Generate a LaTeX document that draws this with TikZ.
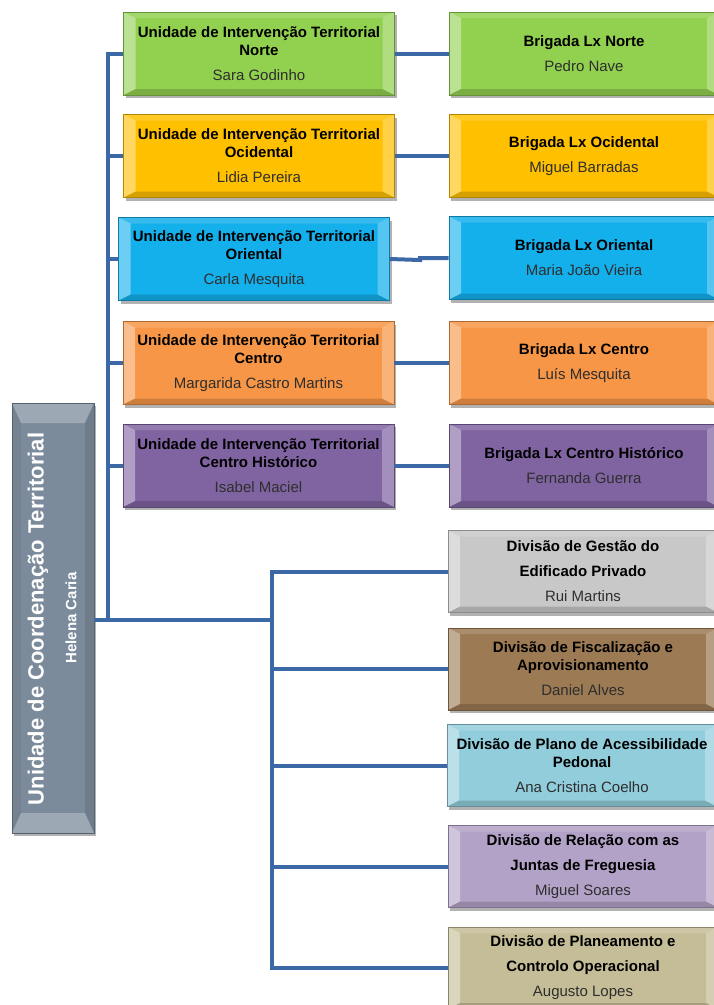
\documentclass[tikz,border=0pt]{standalone}
\usepackage{fontspec}
\setmainfont{Liberation Sans}
\usetikzlibrary{calc,shadows}

\definecolor{cline}{RGB}{60,104,166}
\definecolor{cNorte}{RGB}{146,208,80}
\definecolor{cOcid}{RGB}{255,192,0}
\definecolor{cOrie}{RGB}{20,176,236}
\definecolor{cCentro}{RGB}{247,150,70}
\definecolor{cHist}{RGB}{128,100,162}
\definecolor{cGest}{RGB}{200,200,200}
\definecolor{cFisc}{RGB}{156,122,84}
\definecolor{cPlano}{RGB}{146,205,220}
\definecolor{cRel}{RGB}{179,162,199}
\definecolor{cPlan}{RGB}{196,189,151}
\definecolor{cLeft}{RGB}{124,139,155}

\newcommand{\bevelpic}[6]{%
  \coordinate (pNW) at (path picture bounding box.north west);
  \coordinate (pNE) at (path picture bounding box.north east);
  \coordinate (pSW) at (path picture bounding box.south west);
  \coordinate (pSE) at (path picture bounding box.south east);
  \coordinate (iNW) at ($(pNW)+(#1,-#2)$);
  \coordinate (iNE) at ($(pNE)+(-#1,-#2)$);
  \coordinate (iSW) at ($(pSW)+(#1,#2)$);
  \coordinate (iSE) at ($(pSE)+(-#1,#2)$);
  \fill[#3] (pNW) -- (pSW) -- (iSW) -- (iNW) -- cycle;
  \fill[#4] (pNE) -- (pSE) -- (iSE) -- (iNE) -- cycle;
  \fill[#5] (pNW) -- (pNE) -- (iNE) -- (iNW) -- cycle;
  \fill[#6] (pSW) -- (pSE) -- (iSE) -- (iSW) -- cycle;
}

\tikzset{
  box/.style={draw=#1!70!black, line width=0.6pt, fill=#1, inner sep=0pt,
    align=center, text=black, font=\fontsize{15}{18}\selectfont,
    drop shadow={shadow xshift=2pt, shadow yshift=-3pt, opacity=.3, fill=black},
    path picture={\bevelpic{12pt}{6pt}{white,opacity=.38}{white,opacity=.28}{white,opacity=.15}{black,opacity=.16}}},
  uitbox/.style={box=#1, minimum width=271pt, minimum height=83pt},
  brgbox/.style={box=#1, minimum width=270pt, minimum height=83pt},
  divbox/.style={box=#1, minimum width=270pt, minimum height=82pt},
  leftbox/.style={draw=cLeft!70!black, line width=0.6pt, fill=cLeft, inner sep=0pt,
    minimum width=82pt, minimum height=430pt,
    drop shadow={shadow xshift=2pt, shadow yshift=-3pt, opacity=.3, fill=black},
    path picture={\bevelpic{9pt}{20pt}{black,opacity=.06}{black,opacity=.1}{white,opacity=.25}{white,opacity=.25}}},
  conn/.style={draw=cline, line width=4pt, line join=miter},
}

\begin{document}
\begin{tikzpicture}[x=1pt,y=-1pt]
\useasboundingbox (0,0) rectangle (714,1005);
\clip (0,0) rectangle (714,1005);

% left box
\node[leftbox] (lb) at (53,618) {};
\node[rotate=90, text=white, font=\bfseries\fontsize{22}{26}\selectfont] (lbt) at (38,619) {Unidade de Coordenação Territorial};
\node[rotate=90, text=white, font=\bfseries\fontsize{15}{18}\selectfont] (lbn) at (71,618) {Helena Caria};

% UIT boxes
\node[uitbox=cNorte] (u1) at (259,53.5) {\textbf{Unidade de Intervenção Territorial}\\\textbf{Norte}\\[7pt]\textcolor{black!82}{Sara Godinho}};
\node[uitbox=cOcid] (u2) at (259,156) {\textbf{Unidade de Intervenção Territorial}\\\textbf{Ocidental}\\[7pt]\textcolor{black!82}{Lidia Pereira}};
\node[uitbox=cOrie] (u3) at (254,259) {\textbf{Unidade de Intervenção Territorial}\\\textbf{Oriental}\\[7pt]\textcolor{black!82}{Carla Mesquita}};
\node[uitbox=cCentro] (u4) at (258.5,363) {\textbf{Unidade de Intervenção Territorial}\\\textbf{Centro}\\[7pt]\textcolor{black!82}{Margarida Castro Martins}};
\node[uitbox=cHist] (u5) at (258.5,465.5) {\textbf{Unidade de Intervenção Territorial}\\\textbf{Centro Histórico}\\[7pt]\textcolor{black!82}{Isabel Maciel}};

% Brigada boxes
\node[brgbox=cNorte] (b1) at (584,53.5) {\textbf{Brigada Lx Norte}\\[7pt]\textcolor{black!82}{Pedro Nave}};
\node[brgbox=cOcid] (b2) at (584,156) {\textbf{Brigada Lx Ocidental}\\[7pt]\textcolor{black!82}{Miguel Barradas}};
\node[brgbox=cOrie] (b3) at (584,258) {\textbf{Brigada Lx Oriental}\\[7pt]\textcolor{black!82}{Maria João Vieira}};
\node[brgbox=cCentro] (b4) at (584,363) {\textbf{Brigada Lx Centro}\\[7pt]\textcolor{black!82}{Luís Mesquita}};
\node[brgbox=cHist] (b5) at (584,465.5) {\textbf{Brigada Lx Centro Histórico}\\[7pt]\textcolor{black!82}{Fernanda Guerra}};

% Division boxes
\node[divbox=cGest] (d1) at (583,571.5) {\textbf{Divisão de Gestão do}\\[7pt]\textbf{Edificado Privado}\\[7pt]\textcolor{black!82}{Rui Martins}};
\node[divbox=cFisc] (d2) at (583,669) {\textbf{Divisão de Fiscalização e}\\\textbf{Aprovisionamento}\\[7pt]\textcolor{black!82}{Daniel Alves}};
\node[divbox=cPlano] (d3) at (582,765.5) {\textbf{Divisão de Plano de Acessibilidade}\\\textbf{Pedonal}\\[7pt]\textcolor{black!82}{Ana Cristina Coelho}};
\node[divbox=cRel] (d4) at (583,866.5) {\textbf{Divisão de Relação com as}\\[7pt]\textbf{Juntas de Freguesia}\\[7pt]\textcolor{black!82}{Miguel Soares}};
\node[divbox=cPlan] (d5) at (583,968) {\textbf{Divisão de Planeamento e}\\[7pt]\textbf{Controlo Operacional}\\[7pt]\textcolor{black!82}{Augusto Lopes}};

% connectors
\coordinate (j1) at (108,620);
\coordinate (j2) at (272,620);
\coordinate (jog) at (420,260);
\draw[conn] (lb.east |- j1) -- (j2);
\foreach \n in {u1,u2,u3,u4,u5} \draw[conn] (\n.west) -| (j1);
\foreach \n in {d1,d2,d3,d4,d5} \draw[conn] (\n.west) -| (j2);
\foreach \i in {1,2,4,5} \draw[conn] (u\i.east) -- (b\i.west);
\draw[conn] (u3.east) -- (jog) |- (b3.west);
\end{tikzpicture}
\end{document}
